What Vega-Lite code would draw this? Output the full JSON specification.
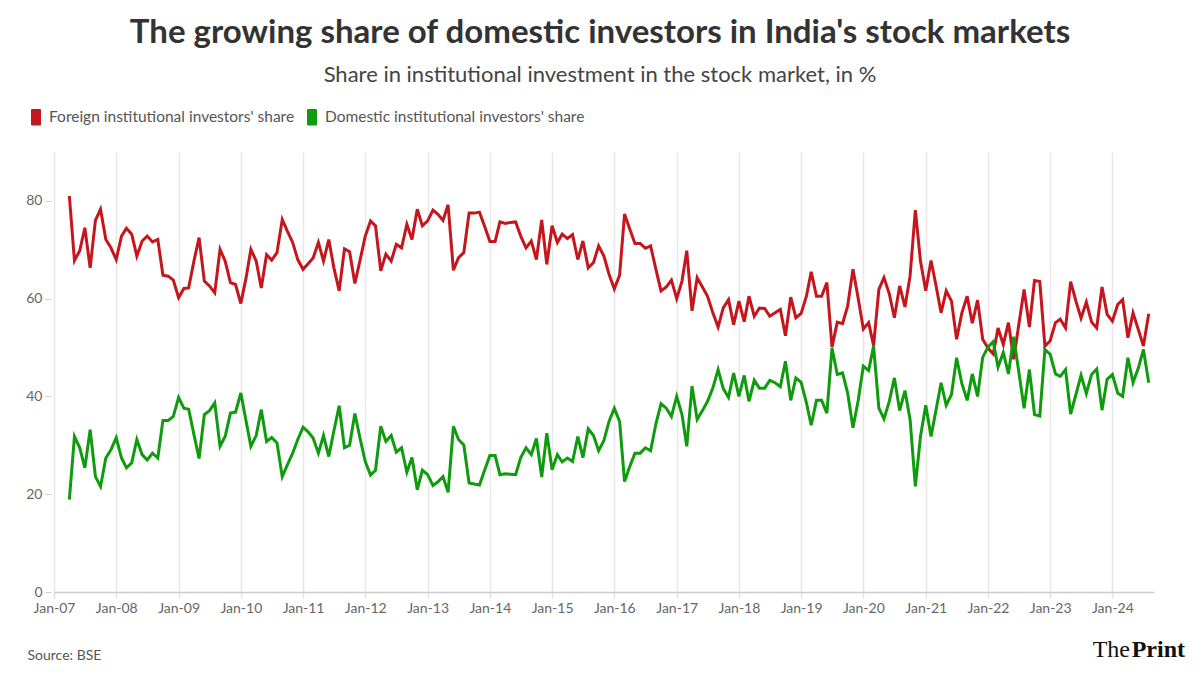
{
  "$schema": "https://vega.github.io/schema/vega-lite/v6.json",
  "width": 1100,
  "height": 440,
  "autosize": "none",
  "padding": {"left": 54, "top": 152, "right": 46, "bottom": 83},
  "background": "white",
  "config": {"view": {"stroke": null}, "font": "Lato"},
  "title": {
    "text": "The growing share of domestic investors in India's stock markets",
    "subtitle": "Share in institutional investment in the stock market, in %",
    "anchor": "middle",
    "dx": -4,
    "offset": 22,
    "font": "Lato",
    "fontSize": 33,
    "fontWeight": "bold",
    "color": "#333333",
    "subtitleFont": "Lato",
    "subtitleFontSize": 22,
    "subtitleColor": "#444444",
    "subtitlePadding": 15
  },
  "data": {"values": [
    {"date":"2007-04-01","fii":81.0,"dii":18.9},
    {"date":"2007-05-01","fii":67.8,"dii":31.8},
    {"date":"2007-06-01","fii":69.8,"dii":29.5},
    {"date":"2007-07-01","fii":74.5,"dii":25.4},
    {"date":"2007-08-01","fii":66.3,"dii":33.2},
    {"date":"2007-09-01","fii":76.0,"dii":23.6},
    {"date":"2007-10-01","fii":78.3,"dii":21.6},
    {"date":"2007-11-01","fii":72.1,"dii":27.4},
    {"date":"2007-12-01","fii":70.4,"dii":29.1},
    {"date":"2008-01-01","fii":68.0,"dii":31.6},
    {"date":"2008-02-01","fii":72.8,"dii":27.4},
    {"date":"2008-03-01","fii":74.4,"dii":25.4},
    {"date":"2008-04-01","fii":73.2,"dii":26.4},
    {"date":"2008-05-01","fii":68.7,"dii":31.2},
    {"date":"2008-06-01","fii":71.8,"dii":28.1},
    {"date":"2008-07-01","fii":72.8,"dii":27.0},
    {"date":"2008-08-01","fii":71.6,"dii":28.4},
    {"date":"2008-09-01","fii":72.1,"dii":27.4},
    {"date":"2008-10-01","fii":64.8,"dii":35.1},
    {"date":"2008-11-01","fii":64.6,"dii":35.1},
    {"date":"2008-12-01","fii":63.8,"dii":35.9},
    {"date":"2009-01-01","fii":60.2,"dii":39.8},
    {"date":"2009-02-01","fii":62.1,"dii":37.6},
    {"date":"2009-03-01","fii":62.2,"dii":37.4},
    {"date":"2009-04-01","fii":67.7,"dii":32.2},
    {"date":"2009-05-01","fii":72.5,"dii":27.3},
    {"date":"2009-06-01","fii":63.6,"dii":36.3},
    {"date":"2009-07-01","fii":62.6,"dii":37.1},
    {"date":"2009-08-01","fii":61.2,"dii":38.7},
    {"date":"2009-09-01","fii":70.1,"dii":29.8},
    {"date":"2009-10-01","fii":67.7,"dii":31.8},
    {"date":"2009-11-01","fii":63.3,"dii":36.6},
    {"date":"2009-12-01","fii":62.9,"dii":36.8},
    {"date":"2010-01-01","fii":59.0,"dii":40.7},
    {"date":"2010-02-01","fii":64.3,"dii":34.9},
    {"date":"2010-03-01","fii":70.1,"dii":29.8},
    {"date":"2010-04-01","fii":67.7,"dii":32.0},
    {"date":"2010-05-01","fii":62.2,"dii":37.3},
    {"date":"2010-06-01","fii":69.0,"dii":30.8},
    {"date":"2010-07-01","fii":67.9,"dii":31.6},
    {"date":"2010-08-01","fii":69.4,"dii":30.5},
    {"date":"2010-09-01","fii":76.2,"dii":23.6},
    {"date":"2010-10-01","fii":73.8,"dii":26.0},
    {"date":"2010-11-01","fii":71.5,"dii":28.4},
    {"date":"2010-12-01","fii":68.0,"dii":31.2},
    {"date":"2011-01-01","fii":66.0,"dii":33.7},
    {"date":"2011-02-01","fii":67.2,"dii":32.7},
    {"date":"2011-03-01","fii":68.3,"dii":31.5},
    {"date":"2011-04-01","fii":71.5,"dii":28.4},
    {"date":"2011-05-01","fii":67.7,"dii":32.0},
    {"date":"2011-06-01","fii":72.1,"dii":27.7},
    {"date":"2011-07-01","fii":66.3,"dii":33.0},
    {"date":"2011-08-01","fii":61.6,"dii":38.1},
    {"date":"2011-09-01","fii":70.2,"dii":29.5},
    {"date":"2011-10-01","fii":69.6,"dii":30.0},
    {"date":"2011-11-01","fii":63.1,"dii":36.5},
    {"date":"2011-12-01","fii":67.8,"dii":31.5},
    {"date":"2012-01-01","fii":72.8,"dii":26.7},
    {"date":"2012-02-01","fii":75.9,"dii":23.9},
    {"date":"2012-03-01","fii":74.9,"dii":24.9},
    {"date":"2012-04-01","fii":65.7,"dii":33.9},
    {"date":"2012-05-01","fii":69.1,"dii":30.8},
    {"date":"2012-06-01","fii":67.7,"dii":32.0},
    {"date":"2012-07-01","fii":71.1,"dii":28.6},
    {"date":"2012-08-01","fii":70.4,"dii":29.5},
    {"date":"2012-09-01","fii":75.2,"dii":24.5},
    {"date":"2012-10-01","fii":72.1,"dii":27.5},
    {"date":"2012-11-01","fii":78.3,"dii":20.9},
    {"date":"2012-12-01","fii":74.9,"dii":24.9},
    {"date":"2013-01-01","fii":75.9,"dii":24.0},
    {"date":"2013-02-01","fii":78.1,"dii":21.8},
    {"date":"2013-03-01","fii":77.3,"dii":22.5},
    {"date":"2013-04-01","fii":76.0,"dii":23.6},
    {"date":"2013-05-01","fii":79.2,"dii":20.4},
    {"date":"2013-06-01","fii":65.8,"dii":33.9},
    {"date":"2013-07-01","fii":68.4,"dii":31.2},
    {"date":"2013-08-01","fii":69.4,"dii":30.1},
    {"date":"2013-09-01","fii":77.5,"dii":22.3},
    {"date":"2013-10-01","fii":77.5,"dii":22.1},
    {"date":"2013-11-01","fii":77.7,"dii":21.9},
    {"date":"2013-12-01","fii":74.8,"dii":24.9},
    {"date":"2014-01-01","fii":71.7,"dii":27.9},
    {"date":"2014-02-01","fii":71.7,"dii":27.9},
    {"date":"2014-03-01","fii":75.7,"dii":24.0},
    {"date":"2014-04-01","fii":75.4,"dii":24.2},
    {"date":"2014-05-01","fii":75.6,"dii":24.1},
    {"date":"2014-06-01","fii":75.7,"dii":24.0},
    {"date":"2014-07-01","fii":72.8,"dii":27.5},
    {"date":"2014-08-01","fii":70.4,"dii":29.5},
    {"date":"2014-09-01","fii":71.8,"dii":28.1},
    {"date":"2014-10-01","fii":68.0,"dii":31.4},
    {"date":"2014-11-01","fii":76.1,"dii":23.5},
    {"date":"2014-12-01","fii":67.0,"dii":32.5},
    {"date":"2015-01-01","fii":74.9,"dii":25.0},
    {"date":"2015-02-01","fii":71.5,"dii":28.1},
    {"date":"2015-03-01","fii":73.2,"dii":26.6},
    {"date":"2015-04-01","fii":72.3,"dii":27.4},
    {"date":"2015-05-01","fii":73.1,"dii":26.7},
    {"date":"2015-06-01","fii":68.0,"dii":31.8},
    {"date":"2015-07-01","fii":71.8,"dii":27.5},
    {"date":"2015-08-01","fii":66.3,"dii":33.4},
    {"date":"2015-09-01","fii":67.4,"dii":32.0},
    {"date":"2015-10-01","fii":70.8,"dii":28.9},
    {"date":"2015-11-01","fii":68.7,"dii":31.0},
    {"date":"2015-12-01","fii":65.0,"dii":34.9},
    {"date":"2016-01-01","fii":62.0,"dii":37.6},
    {"date":"2016-02-01","fii":64.8,"dii":34.9},
    {"date":"2016-03-01","fii":77.3,"dii":22.6},
    {"date":"2016-04-01","fii":74.2,"dii":25.7},
    {"date":"2016-05-01","fii":71.3,"dii":28.4},
    {"date":"2016-06-01","fii":71.3,"dii":28.4},
    {"date":"2016-07-01","fii":70.3,"dii":29.5},
    {"date":"2016-08-01","fii":70.8,"dii":28.9},
    {"date":"2016-09-01","fii":66.0,"dii":34.4},
    {"date":"2016-10-01","fii":61.6,"dii":38.5},
    {"date":"2016-11-01","fii":62.4,"dii":37.6},
    {"date":"2016-12-01","fii":63.8,"dii":35.9},
    {"date":"2017-01-01","fii":60.0,"dii":40.0},
    {"date":"2017-02-01","fii":63.6,"dii":36.3},
    {"date":"2017-03-01","fii":69.8,"dii":29.8},
    {"date":"2017-04-01","fii":57.5,"dii":42.1},
    {"date":"2017-05-01","fii":64.3,"dii":35.3},
    {"date":"2017-06-01","fii":62.4,"dii":37.1},
    {"date":"2017-07-01","fii":60.5,"dii":39.0},
    {"date":"2017-08-01","fii":57.1,"dii":41.7},
    {"date":"2017-09-01","fii":54.2,"dii":45.5},
    {"date":"2017-10-01","fii":58.1,"dii":41.6},
    {"date":"2017-11-01","fii":59.8,"dii":39.8},
    {"date":"2017-12-01","fii":54.7,"dii":44.8},
    {"date":"2018-01-01","fii":59.5,"dii":40.0},
    {"date":"2018-02-01","fii":55.3,"dii":44.3},
    {"date":"2018-03-01","fii":60.5,"dii":39.0},
    {"date":"2018-04-01","fii":56.4,"dii":43.3},
    {"date":"2018-05-01","fii":58.1,"dii":41.7},
    {"date":"2018-06-01","fii":58.0,"dii":41.7},
    {"date":"2018-07-01","fii":56.4,"dii":43.3},
    {"date":"2018-08-01","fii":57.1,"dii":42.8},
    {"date":"2018-09-01","fii":57.8,"dii":42.0},
    {"date":"2018-10-01","fii":52.4,"dii":47.2},
    {"date":"2018-11-01","fii":60.3,"dii":39.2},
    {"date":"2018-12-01","fii":56.1,"dii":43.8},
    {"date":"2019-01-01","fii":57.0,"dii":42.9},
    {"date":"2019-02-01","fii":60.5,"dii":38.7},
    {"date":"2019-03-01","fii":65.5,"dii":34.1},
    {"date":"2019-04-01","fii":60.5,"dii":39.2},
    {"date":"2019-05-01","fii":60.5,"dii":39.2},
    {"date":"2019-06-01","fii":63.3,"dii":36.6},
    {"date":"2019-07-01","fii":50.1,"dii":49.9},
    {"date":"2019-08-01","fii":55.2,"dii":44.5},
    {"date":"2019-09-01","fii":54.9,"dii":44.8},
    {"date":"2019-10-01","fii":58.5,"dii":40.7},
    {"date":"2019-11-01","fii":66.0,"dii":33.6},
    {"date":"2019-12-01","fii":60.2,"dii":39.0},
    {"date":"2020-01-01","fii":53.8,"dii":46.2},
    {"date":"2020-02-01","fii":55.1,"dii":45.3},
    {"date":"2020-03-01","fii":50.4,"dii":50.3},
    {"date":"2020-04-01","fii":61.9,"dii":37.6},
    {"date":"2020-05-01","fii":64.3,"dii":35.4},
    {"date":"2020-06-01","fii":61.0,"dii":39.0},
    {"date":"2020-07-01","fii":56.1,"dii":43.8},
    {"date":"2020-08-01","fii":62.6,"dii":37.1},
    {"date":"2020-09-01","fii":58.3,"dii":41.2},
    {"date":"2020-10-01","fii":64.6,"dii":35.3},
    {"date":"2020-11-01","fii":78.1,"dii":21.6},
    {"date":"2020-12-01","fii":67.7,"dii":31.8},
    {"date":"2021-01-01","fii":61.6,"dii":38.2},
    {"date":"2021-02-01","fii":67.8,"dii":31.8},
    {"date":"2021-03-01","fii":62.9,"dii":37.0},
    {"date":"2021-04-01","fii":57.1,"dii":42.8},
    {"date":"2021-05-01","fii":61.6,"dii":38.2},
    {"date":"2021-06-01","fii":59.5,"dii":40.4},
    {"date":"2021-07-01","fii":51.7,"dii":47.9},
    {"date":"2021-08-01","fii":57.1,"dii":42.6},
    {"date":"2021-09-01","fii":60.5,"dii":39.2},
    {"date":"2021-10-01","fii":55.0,"dii":44.6},
    {"date":"2021-11-01","fii":59.7,"dii":40.0},
    {"date":"2021-12-01","fii":51.7,"dii":48.0},
    {"date":"2022-01-01","fii":49.9,"dii":50.1},
    {"date":"2022-02-01","fii":48.7,"dii":51.2},
    {"date":"2022-03-01","fii":54.0,"dii":46.0},
    {"date":"2022-04-01","fii":50.6,"dii":49.0},
    {"date":"2022-05-01","fii":55.1,"dii":44.6},
    {"date":"2022-06-01","fii":47.6,"dii":52.2},
    {"date":"2022-07-01","fii":54.7,"dii":45.0},
    {"date":"2022-08-01","fii":61.9,"dii":37.6},
    {"date":"2022-09-01","fii":54.2,"dii":45.5},
    {"date":"2022-10-01","fii":63.7,"dii":36.3},
    {"date":"2022-11-01","fii":63.5,"dii":36.0},
    {"date":"2022-12-01","fii":50.3,"dii":49.6},
    {"date":"2023-01-01","fii":51.4,"dii":48.6},
    {"date":"2023-02-01","fii":55.1,"dii":44.6},
    {"date":"2023-03-01","fii":55.8,"dii":44.1},
    {"date":"2023-04-01","fii":54.0,"dii":45.5},
    {"date":"2023-05-01","fii":63.5,"dii":36.4},
    {"date":"2023-06-01","fii":59.5,"dii":40.4},
    {"date":"2023-07-01","fii":56.0,"dii":44.3},
    {"date":"2023-08-01","fii":59.3,"dii":40.6},
    {"date":"2023-09-01","fii":55.2,"dii":44.5},
    {"date":"2023-10-01","fii":54.0,"dii":45.6},
    {"date":"2023-11-01","fii":62.4,"dii":37.2},
    {"date":"2023-12-01","fii":56.8,"dii":43.5},
    {"date":"2024-01-01","fii":55.4,"dii":44.5},
    {"date":"2024-02-01","fii":58.8,"dii":40.7},
    {"date":"2024-03-01","fii":59.8,"dii":40.0},
    {"date":"2024-04-01","fii":52.0,"dii":47.9},
    {"date":"2024-05-01","fii":57.1,"dii":42.8},
    {"date":"2024-06-01","fii":53.7,"dii":45.8},
    {"date":"2024-07-01","fii":50.3,"dii":49.6},
    {"date":"2024-08-01","fii":56.9,"dii":42.8}
  ]},
  "layer": [
    {
      "transform": [{"fold": ["fii", "dii"], "as": ["series", "value"]}],
      "mark": {"type": "line", "strokeWidth": 3},
      "encoding": {
        "x": {
          "field": "date",
          "type": "temporal",
          "scale": {"type": "utc", "domain": [{"year": 2007, "month": 1, "date": 1, "utc": true}, {"year": 2024, "month": 9, "date": 1, "utc": true}]},
          "axis": {
            "values": [
              {"year": 2007, "month": 1, "date": 1, "utc": true},
              {"year": 2008, "month": 1, "date": 1, "utc": true},
              {"year": 2009, "month": 1, "date": 1, "utc": true},
              {"year": 2010, "month": 1, "date": 1, "utc": true},
              {"year": 2011, "month": 1, "date": 1, "utc": true},
              {"year": 2012, "month": 1, "date": 1, "utc": true},
              {"year": 2013, "month": 1, "date": 1, "utc": true},
              {"year": 2014, "month": 1, "date": 1, "utc": true},
              {"year": 2015, "month": 1, "date": 1, "utc": true},
              {"year": 2016, "month": 1, "date": 1, "utc": true},
              {"year": 2017, "month": 1, "date": 1, "utc": true},
              {"year": 2018, "month": 1, "date": 1, "utc": true},
              {"year": 2019, "month": 1, "date": 1, "utc": true},
              {"year": 2020, "month": 1, "date": 1, "utc": true},
              {"year": 2021, "month": 1, "date": 1, "utc": true},
              {"year": 2022, "month": 1, "date": 1, "utc": true},
              {"year": 2023, "month": 1, "date": 1, "utc": true},
              {"year": 2024, "month": 1, "date": 1, "utc": true}
            ],
            "format": "%b-%y",
            "labelFlush": false,
            "labelOverlap": false,
            "labelFont": "Lato",
            "labelFontSize": 14,
            "labelColor": "#666666",
            "labelPadding": 3,
            "tickSize": 6,
            "tickColor": "#e3e3e3",
            "tickWidth": 1.5,
            "grid": true,
            "gridColor": "#e8e8e8",
            "gridWidth": 1.5,
            "domainColor": "#cccccc",
            "domainWidth": 1.5,
            "title": "Source: BSE",
            "titleX": -27,
            "titleY": 67,
            "titleAlign": "left",
            "titleAnchor": "start",
            "titleBaseline": "alphabetic",
            "titleFont": "Lato",
            "titleFontSize": 14,
            "titleFontWeight": "normal",
            "titleColor": "#555555"
          }
        },
        "y": {
          "field": "value",
          "type": "quantitative",
          "scale": {"domain": [0, 90], "nice": false},
          "axis": {
            "values": [0, 20, 40, 60, 80],
            "domain": false,
            "grid": false,
            "ticks": true,
            "tickSize": 6,
            "tickColor": "#cccccc",
            "offset": 3,
            "labelPadding": 3,
            "labelFont": "Lato",
            "labelFontSize": 14,
            "labelColor": "#666666",
            "title": null
          }
        },
        "color": {
          "field": "series",
          "type": "nominal",
          "sort": ["fii", "dii"],
          "scale": {"domain": ["fii", "dii"], "range": ["#c4161c", "#109b0f"]},
          "legend": {
            "orient": "none",
            "legendX": -27,
            "legendY": -44,
            "direction": "horizontal",
            "title": null,
            "symbolType": "M-0.5,-0.9H0.5V0.9H-0.5Z",
            "symbolSize": 256,
            "labelFont": "Lato",
            "labelFontSize": 15.5,
            "labelLimit": 500,
            "labelColor": "#555555",
            "labelOffset": 4,
            "columnPadding": 8,
            "labelExpr": "datum.value == 'fii' ? \"Foreign institutional investors' share\" : \"Domestic institutional investors' share\"",
            "encode": {
              "symbols": {
                "update": {
                  "fill": {"scale": "color", "field": "value"},
                  "stroke": {"scale": "color", "field": "value"},
                  "strokeWidth": {"value": 2},
                  "strokeJoin": {"value": "round"},
                  "opacity": {"value": 1}
                }
              }
            }
          }
        }
      }
    },
    {
      "data": {"values": [{"label": "Print"}]},
      "mark": {"type": "text", "font": "Liberation Serif", "fontSize": 24, "fontWeight": "bold", "align": "right", "baseline": "alphabetic", "dx": 31, "dy": 65, "color": "#111111"},
      "encoding": {
        "x": {"datum": {"year": 2024, "month": 9, "date": 1, "utc": true}, "type": "temporal"},
        "y": {"datum": 0, "type": "quantitative"},
        "text": {"field": "label"}
      }
    },
    {
      "data": {"values": [{"label": "The"}]},
      "mark": {"type": "text", "font": "Liberation Serif", "fontSize": 24, "fontWeight": "normal", "align": "right", "baseline": "alphabetic", "dx": -24, "dy": 65, "color": "#111111"},
      "encoding": {
        "x": {"datum": {"year": 2024, "month": 9, "date": 1, "utc": true}, "type": "temporal"},
        "y": {"datum": 0, "type": "quantitative"},
        "text": {"field": "label"}
      }
    }
  ]
}
